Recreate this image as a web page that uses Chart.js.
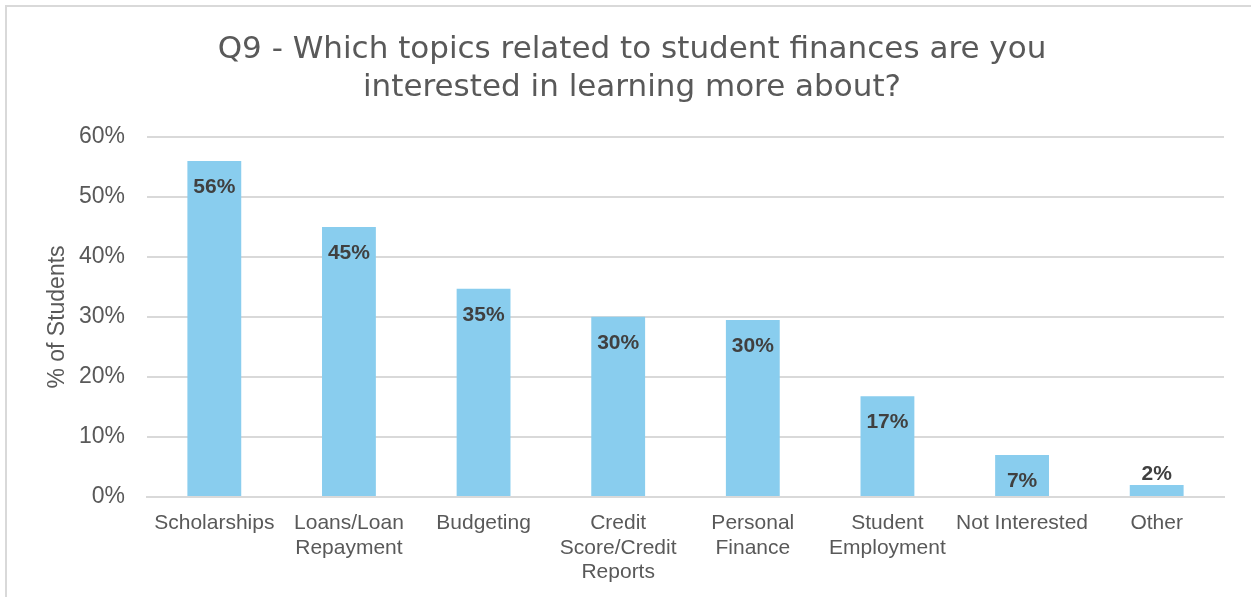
<!DOCTYPE html>
<html>
<head>
<meta charset="utf-8">
<script src="https://cdn.jsdelivr.net/npm/chart.js@4/dist/chart.umd.min.js"></script>
<style>
  html, body { margin: 0; padding: 0; background: #fff; overflow: hidden; }
  #box {
    position: absolute; left: 5px; top: 5px;
    width: 1250px; height: 620px;
    border: 2px solid #d9d9d9;
  }
</style>
</head>
<body>
<div id="box"><canvas id="myChart" width="1250" height="620"></canvas></div>
<script>
// Q9 survey - share of students per topic
var topics = [
  "Scholarships",
  ["Loans/Loan", "Repayment"],
  "Budgeting",
  ["Credit", "Score/Credit", "Reports"],
  ["Personal", "Finance"],
  ["Student", "Employment"],
  "Not Interested",
  "Other"
];
var percentStudents = [56, 45, 34.7, 30.05, 29.5, 16.8, 7, 2];
var yTicks = [0, 10, 20, 30, 40, 50, 60];

var grey = "#595959";

// value labels on top of the bars (inside when there's room)
var barLabels = {
  id: "barLabels",
  afterDatasetsDraw: function(chart){
    var ctx = chart.ctx;
    var meta = chart.getDatasetMeta(0);
    ctx.save();
    ctx.font = "bold 21px 'Liberation Sans', Arial, sans-serif";
    ctx.fillStyle = "#404040";
    ctx.textAlign = "center";
    ctx.textBaseline = "middle";
    meta.data.forEach(function(bar, i){
      var v = chart.data.datasets[0].data[i];
      var h = bar.base - bar.y;
      var y = h > 40 ? bar.y + 26 : bar.y - 11;
      ctx.fillText(Math.round(v) + "%", bar.x, y);
    });
    ctx.restore();
  }
};

var ctx = document.getElementById("myChart");

var myChart = new Chart(ctx, {
  type: "bar",
  data: {
    labels: topics,
    datasets: [
      {
        label: "% of Students",
        data: percentStudents,
        backgroundColor: "#89cdee",
        borderWidth: 0,
        barPercentage: 0.4,
        categoryPercentage: 1.0
      }
    ]
  },
  options: {
    responsive: false,
    animation: false,
    layout: { padding: { left: 33, right: 33, top: 0, bottom: 0 } },
    plugins: {
      legend: { display: false },
      tooltip: { enabled: false },
      title: {
        display: true,
        text: ["Q9 - Which topics related to student finances are you", "interested in learning more about?"],
        color: grey,
        font: { family: "'DejaVu Sans', sans-serif", size: 31, weight: "normal", lineHeight: 1.226 },
        padding: { top: 24, bottom: 30 }
      }
    },
    scales: {
      x: {
        grid: { display: false, drawTicks: false },
        border: { display: true, color: "#d9d9d9", width: 2 },
        ticks: {
          color: grey,
          font: { family: "'Liberation Sans', Arial, sans-serif", size: 21, lineHeight: 1.17 },
          padding: 14,
          maxRotation: 0,
          autoSkip: false
        },
        afterFit: function(scale){ scale.height = 130; }
      },
      y: {
        min: 0,
        max: 60,
        afterBuildTicks: function(scale){
          scale.ticks = yTicks.map(function(v){ return { value: v }; });
        },
        grid: { color: "#d9d9d9", lineWidth: 2, drawTicks: false },
        border: { display: false },
        ticks: {
          color: grey,
          font: { family: "'Liberation Sans', Arial, sans-serif", size: 23 },
          padding: 22,
          callback: function(v){ return v + "%"; }
        },
        title: {
          display: true,
          text: "% of Students",
          color: grey,
          font: { family: "'Liberation Sans', Arial, sans-serif", size: 23 },
          padding: { top: 4, bottom: 0 }
        },
        afterFit: function(scale){ scale.width = 107; }
      }
    }
  },
  plugins: [barLabels]
});
</script>
</body>
</html>
